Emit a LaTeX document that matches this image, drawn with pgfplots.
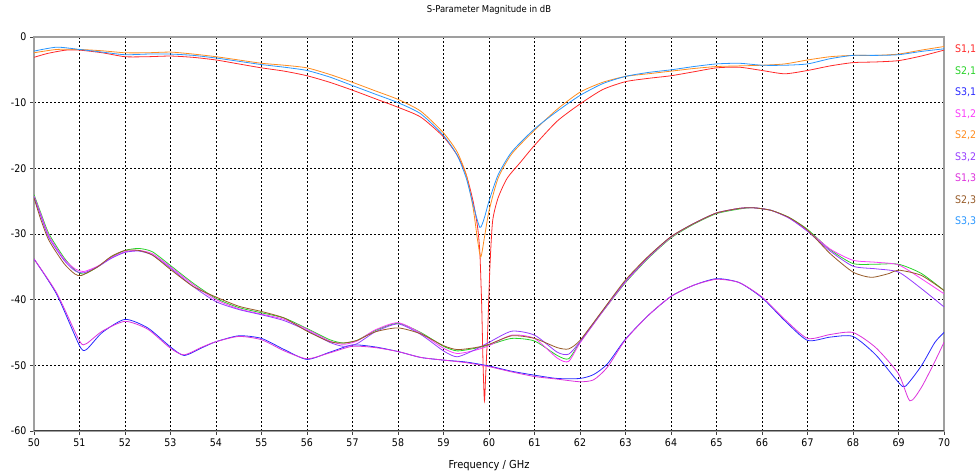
\documentclass[border=0pt]{standalone}
\usepackage{fontspec}
\setmainfont{DejaVu Sans Condensed}
\usepackage{pgfplots}
\pgfplotsset{compat=1.18}
\definecolor{c11}{RGB}{255,40,40}
\definecolor{c21}{RGB}{40,210,40}
\definecolor{c31}{RGB}{40,40,255}
\definecolor{c12}{RGB}{250,60,250}
\definecolor{c22}{RGB}{255,140,30}
\definecolor{c32}{RGB}{150,60,255}
\definecolor{c13}{RGB}{220,50,220}
\definecolor{c23}{RGB}{150,90,40}
\definecolor{c33}{RGB}{40,150,255}
\begin{document}
\fontsize{10.5}{12}\selectfont
\begin{tikzpicture}
\begin{axis}[name=ax, scale only axis, width=910pt, height=394pt,
  xmin=50, xmax=70, ymin=-60, ymax=0,
  xtick={50,51,...,70}, ytick={-60,-50,...,0},
  grid=major, grid style={black, line width=0.5pt, dash pattern=on 2pt off 2pt},
  axis line style={gray!75, line width=1.5pt},
  tick pos=left, tick align=outside, major tick length=4pt,
  tick style={gray!50!black, line width=0.8pt},
  /pgf/number format/assume math mode=true,
  tick label style={font=\fontsize{10.5}{12}\selectfont},
  title={S-Parameter Magnitude in dB},
  title style={at={(axis description cs:0.5,1)}, anchor=center, yshift=21pt, font=\fontsize{9.4}{11}\selectfont},
  xlabel={Frequency / GHz},
  xlabel style={at={(axis description cs:0.5,0)}, anchor=center, yshift=-35pt, font=\fontsize{11}{13}\selectfont},
  legend style={draw=none, fill=none, at={(1,1)}, anchor=north west, xshift=11pt, yshift=-8.5pt,
    inner sep=0pt, row sep=12.5pt, column sep=0pt,
    nodes={inner sep=0pt, text height=7pt, text depth=2pt, font=\fontsize{10.5}{12}\selectfont}},
  legend image code/.code={}, legend cell align=left,
  every axis plot/.append style={line width=0.8pt, smooth, tension=0.4},
]
% S1,1
\addplot[c11] coordinates {(50,-3.1)(50.3,-2.5)(50.7,-2.0)(51,-2.0)(51.5,-2.4)(52,-3.0)(52.5,-3.0)(53,-2.9)(53.5,-3.1)(54,-3.5)(54.5,-4.1)(55,-4.7)(55.5,-5.2)(56,-5.9)(56.5,-6.9)(57,-8.1)(57.5,-9.4)(58,-10.7)(58.5,-12.2)(59,-15.2)(59.3,-18)(59.5,-21)(59.65,-25)(59.75,-29)(59.8,-33)(59.84,-41)(59.87,-50)(59.9,-55.4)(59.93,-51)(59.97,-45)(60.02,-35)(60.08,-28)(60.2,-24.5)(60.4,-21.5)(60.7,-19)(61,-16.5)(61.5,-12.8)(62,-10.2)(62.5,-8.0)(63,-6.8)(63.5,-6.3)(64,-5.9)(64.5,-5.3)(65,-4.7)(65.5,-4.6)(66,-5.1)(66.5,-5.6)(67,-5.1)(67.5,-4.4)(68,-3.9)(68.5,-3.8)(69,-3.6)(69.5,-2.9)(70,-2.0)};
\addlegendentry{\textcolor{c11}{S1,1}}
% S2,1
\addplot[c21] coordinates {(50,-24.0)(50.15,-26.8)(50.33,-30.0)(50.66,-33.6)(50.9,-35.5)(51.1,-36.1)(51.4,-35.0)(51.7,-33.5)(52,-32.5)(52.3,-32.2)(52.6,-32.7)(53,-34.8)(53.5,-37.5)(54,-39.8)(54.5,-41.2)(55,-42.0)(55.5,-42.8)(56,-44.4)(56.5,-46.1)(56.8,-46.6)(57.1,-46.2)(57.5,-44.7)(58,-43.6)(58.5,-45.0)(59,-47.1)(59.3,-47.8)(59.7,-47.4)(60,-46.9)(60.5,-45.9)(61,-46.3)(61.5,-48.5)(61.75,-49.0)(62,-46.5)(62.5,-41.8)(63,-37.4)(63.5,-33.7)(64,-30.6)(64.5,-28.5)(65,-26.9)(65.5,-26.2)(65.8,-26.0)(66.2,-26.4)(66.6,-27.5)(67,-29.3)(67.5,-32.4)(68,-34.5)(68.5,-34.6)(69,-34.6)(69.5,-36.0)(70,-38.6)};
\addlegendentry{\textcolor{c21}{S2,1}}
% S3,1
\addplot[c31] coordinates {(50,-33.8)(50.5,-39.2)(51,-47.0)(51.15,-47.6)(51.5,-45.0)(52,-43.0)(52.5,-44.3)(53,-47.2)(53.3,-48.5)(53.7,-47.3)(54,-46.4)(54.5,-45.5)(55,-45.9)(55.5,-47.6)(56,-49.1)(56.5,-48.0)(57,-46.9)(57.5,-47.2)(58,-47.9)(58.5,-48.8)(59,-49.2)(59.5,-49.5)(60,-50.1)(60.5,-50.9)(61,-51.5)(61.5,-52.0)(62,-52.0)(62.3,-51.4)(62.6,-49.8)(63,-46.0)(63.5,-42.4)(64,-39.5)(64.5,-37.8)(65,-36.8)(65.5,-37.4)(66,-39.7)(66.5,-43.2)(67,-46.2)(67.5,-45.7)(68,-45.6)(68.5,-48.4)(69,-52.6)(69.15,-53.2)(69.5,-50.1)(69.8,-46.5)(70,-45.0)};
\addlegendentry{\textcolor{c31}{S3,1}}
% S1,2
\addplot[c12] coordinates {(50,-24.2)(50.15,-27.0)(50.33,-30.3)(50.66,-33.8)(50.9,-35.3)(51.1,-35.7)(51.4,-34.9)(51.7,-33.6)(52,-32.7)(52.3,-32.5)(52.6,-33.0)(53,-35.0)(53.5,-37.7)(54,-40.0)(54.5,-41.4)(55,-42.2)(55.5,-43.0)(56,-44.5)(56.5,-46.3)(56.8,-46.8)(57.1,-46.3)(57.5,-44.6)(58,-43.5)(58.5,-45.1)(59,-47.4)(59.3,-48.2)(59.7,-47.7)(60,-47.0)(60.5,-45.4)(61,-45.9)(61.5,-48.9)(61.75,-49.4)(62,-46.6)(62.5,-41.8)(63,-37.3)(63.5,-33.6)(64,-30.5)(64.5,-28.4)(65,-26.8)(65.5,-26.1)(65.8,-26.0)(66.2,-26.4)(66.6,-27.6)(67,-29.5)(67.5,-32.3)(68,-34.0)(68.5,-34.3)(69,-34.7)(69.5,-36.8)(70,-39.1)};
\addlegendentry{\textcolor{c12}{S1,2}}
% S2,2
\addplot[c22] coordinates {(50,-2.4)(50.5,-1.9)(51,-1.9)(51.5,-2.1)(52,-2.4)(52.5,-2.4)(53,-2.3)(53.5,-2.6)(54,-3.0)(54.5,-3.5)(55,-4.0)(55.5,-4.3)(56,-4.7)(56.5,-5.7)(57,-6.9)(57.5,-8.2)(58,-9.5)(58.5,-11.3)(59,-14.6)(59.3,-17.5)(59.5,-21)(59.65,-26)(59.75,-31)(59.82,-33.5)(59.9,-30.5)(60.0,-26.5)(60.2,-21.5)(60.5,-17.8)(61,-14.2)(61.5,-11)(62,-8.4)(62.5,-6.9)(63,-6.0)(63.5,-5.6)(64,-5.2)(64.5,-4.8)(65,-4.5)(65.5,-4.4)(66,-4.3)(66.5,-4.1)(67,-3.5)(67.5,-3.0)(68,-2.8)(68.5,-2.8)(69,-2.6)(69.5,-2.0)(70,-1.45)};
\addlegendentry{\textcolor{c22}{S2,2}}
% S3,2
\addplot[c32] coordinates {(50,-24.3)(50.15,-27.3)(50.33,-30.6)(50.66,-34.0)(50.9,-35.6)(51.1,-35.9)(51.4,-35.0)(51.7,-33.7)(52,-32.8)(52.3,-32.6)(52.6,-33.2)(53,-35.2)(53.5,-38.0)(54,-40.3)(54.5,-41.5)(55,-42.3)(55.5,-43.2)(56,-44.7)(56.5,-46.5)(56.8,-47.1)(57.1,-46.7)(57.5,-44.9)(58,-43.7)(58.5,-45.3)(59,-47.8)(59.3,-48.7)(59.7,-47.6)(60,-46.5)(60.5,-44.8)(61,-45.4)(61.5,-48.0)(61.75,-48.3)(62,-46.4)(62.5,-41.7)(63,-37.2)(63.5,-33.5)(64,-30.4)(64.5,-28.4)(65,-26.8)(65.5,-26.1)(65.8,-26.0)(66.2,-26.4)(66.6,-27.6)(67,-29.6)(67.5,-32.6)(68,-34.9)(68.5,-35.3)(69,-35.8)(69.5,-38.3)(70,-41.1)};
\addlegendentry{\textcolor{c32}{S3,2}}
% S1,3
\addplot[c13] coordinates {(50,-33.8)(50.5,-39.0)(51,-46.3)(51.15,-46.7)(51.5,-44.8)(52,-43.3)(52.5,-44.5)(53,-47.4)(53.3,-48.4)(53.7,-47.2)(54,-46.4)(54.5,-45.6)(55,-46.1)(55.5,-47.8)(56,-49.0)(56.5,-48.1)(57,-47.1)(57.5,-47.3)(58,-47.9)(58.5,-48.8)(59,-49.2)(59.5,-49.6)(60,-50.2)(60.5,-51.0)(61,-51.7)(61.5,-52.1)(62,-52.5)(62.3,-52.2)(62.6,-50.3)(63,-46.1)(63.5,-42.4)(64,-39.5)(64.5,-37.8)(65,-36.9)(65.5,-37.4)(66,-39.6)(66.5,-43.0)(67,-45.9)(67.5,-45.3)(68,-45.0)(68.5,-47.3)(69,-51.3)(69.25,-55.4)(69.5,-53.4)(69.8,-49.4)(70,-46.5)};
\addlegendentry{\textcolor{c13}{S1,3}}
% S2,3
\addplot[c23] coordinates {(50,-24.5)(50.15,-27.8)(50.33,-31.0)(50.66,-34.5)(50.9,-36.1)(51.05,-36.3)(51.4,-35.0)(51.7,-33.4)(52,-32.5)(52.3,-32.5)(52.6,-33.2)(53,-35.4)(53.5,-38.0)(54,-39.6)(54.5,-41.0)(55,-41.8)(55.5,-42.8)(56,-44.8)(56.5,-46.4)(56.8,-46.6)(57.1,-46.2)(57.5,-44.9)(58,-44.3)(58.5,-45.2)(59,-47.0)(59.3,-47.6)(59.7,-47.3)(60,-46.8)(60.5,-45.5)(61,-45.9)(61.5,-47.3)(61.75,-47.5)(62,-46.2)(62.5,-41.6)(63,-37.0)(63.5,-33.4)(64,-30.4)(64.5,-28.4)(65,-26.8)(65.5,-26.1)(65.8,-26.0)(66.2,-26.4)(66.6,-27.5)(67,-29.4)(67.5,-33.0)(68,-35.8)(68.4,-36.6)(68.8,-36.0)(69,-35.5)(69.5,-36.3)(70,-38.6)};
\addlegendentry{\textcolor{c23}{S2,3}}
% S3,3
\addplot[c33] coordinates {(50,-2.15)(50.5,-1.55)(51,-1.9)(51.5,-2.3)(52,-2.7)(52.5,-2.6)(53,-2.6)(53.5,-2.8)(54,-3.2)(54.5,-3.7)(55,-4.2)(55.5,-4.6)(56,-5.1)(56.5,-6.1)(57,-7.4)(57.5,-8.7)(58,-10.0)(58.5,-11.7)(59,-15.0)(59.3,-18)(59.5,-21.5)(59.65,-25.5)(59.8,-29)(59.9,-27.5)(60.0,-25)(60.2,-21)(60.5,-17.5)(61,-14)(61.5,-11.3)(62,-8.9)(62.5,-7.1)(63,-6.0)(63.5,-5.4)(64,-5.0)(64.5,-4.5)(65,-4.1)(65.5,-4.0)(66,-4.3)(66.5,-4.3)(67,-4.1)(67.5,-3.3)(68,-2.8)(68.5,-2.8)(69,-2.7)(69.5,-2.2)(70,-1.8)};
\addlegendentry{\textcolor{c33}{S3,3}}
\draw[gray!50!black, line width=1.5pt] (rel axis cs:0,0) -- (rel axis cs:1,0);
\end{axis}
\pgfresetboundingbox
\path ([shift={(-34pt,-45pt)}]ax.south west) rectangle ([shift={(33pt,37pt)}]ax.north east);
\end{tikzpicture}
\end{document}
